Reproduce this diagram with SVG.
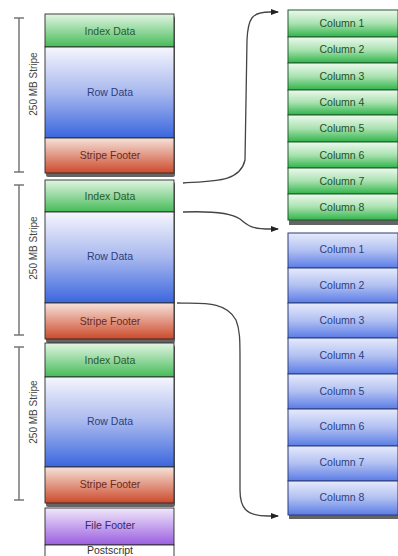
<svg xmlns="http://www.w3.org/2000/svg" width="398" height="556" viewBox="0 0 398 556">
<defs>
<linearGradient id="gIdx" x1="0" y1="0" x2="0" y2="1"><stop offset="0" stop-color="#e3f5e3"/><stop offset="1" stop-color="#45bb58"/></linearGradient>
<linearGradient id="gRow" x1="0" y1="0" x2="0" y2="1"><stop offset="0" stop-color="#f6f6fd"/><stop offset="0.5" stop-color="#a8b8ee"/><stop offset="1" stop-color="#3a66de"/></linearGradient>
<linearGradient id="gFoot" x1="0" y1="0" x2="0" y2="1"><stop offset="0" stop-color="#f6e2da"/><stop offset="1" stop-color="#cc4a2c"/></linearGradient>
<linearGradient id="gFile" x1="0" y1="0" x2="0" y2="1"><stop offset="0" stop-color="#f1e8fa"/><stop offset="1" stop-color="#9a5ee0"/></linearGradient>
<linearGradient id="gCg" x1="0" y1="0" x2="0" y2="1"><stop offset="0" stop-color="#eef9ee"/><stop offset="0.5" stop-color="#a9e2b0"/><stop offset="1" stop-color="#2fb449"/></linearGradient>
<linearGradient id="gCb" x1="0" y1="0" x2="0" y2="1"><stop offset="0" stop-color="#e6eafb"/><stop offset="0.5" stop-color="#b1c0f2"/><stop offset="1" stop-color="#5a7ce6"/></linearGradient>
<marker id="arr" markerWidth="8" markerHeight="6" refX="7" refY="3" orient="auto" markerUnits="userSpaceOnUse"><path d="M0,0 L8,3 L0,6 Z" fill="#222"/></marker>
</defs>
<style>
.t{font-family:"Liberation Sans",Arial,sans-serif;font-size:10.5px;text-anchor:middle;dominant-baseline:central}
.ti{fill:#2b5a2e}.tr{fill:#2c3f80}.tf{fill:#6b2a1c}.tp{fill:#3a2a66}.tg{fill:#24502a}.tb{fill:#2c3f80}
.lab{font-family:"Liberation Sans",Arial,sans-serif;font-size:10px;fill:#444;text-anchor:middle;dominant-baseline:central}
.br{stroke:#777;stroke-width:1.5;fill:none}
.sh{fill:#222;opacity:0.7}
.bd{stroke:#2a2a2a;stroke-width:0.9}
.bg{stroke:#1f5a2c;stroke-width:1}
.bb{stroke:#2b3d7a;stroke-width:1}
.con{stroke:#444;stroke-width:1.3;fill:none;marker-end:url(#arr)}
</style>

<g id="bracket1"><path class="br" d="M19,18 V172 M14,18 H24 M14,172 H24"/><text class="lab" transform="translate(33,84) rotate(-90)">250 MB Stripe</text></g>
<g id="bracket2"><path class="br" d="M19,185 V335 M14,185 H24 M14,335 H24"/><text class="lab" transform="translate(33,248) rotate(-90)">250 MB Stripe</text></g>
<g id="bracket3"><path class="br" d="M19,347 V500 M14,347 H24 M14,500 H24"/><text class="lab" transform="translate(33,412) rotate(-90)">250 MB Stripe</text></g>

<g id="stripe1">
<rect class="sh" x="46" y="16" width="129" height="161" rx="2"/>
<rect class="bd" x="45" y="14" width="129" height="33" fill="url(#gIdx)"/>
<rect class="bd" x="45" y="47" width="129" height="91" fill="url(#gRow)"/>
<rect class="bd" x="45" y="138" width="129" height="35" fill="url(#gFoot)"/>
<text class="t ti" x="110" y="31">Index Data</text>
<text class="t tr" x="110" y="92">Row Data</text>
<text class="t tf" x="110" y="155">Stripe Footer</text>
</g>
<g id="stripe2">
<rect class="sh" x="46" y="182" width="129" height="161" rx="2"/>
<rect class="bd" x="45" y="180" width="129" height="32" fill="url(#gIdx)"/>
<rect class="bd" x="45" y="212" width="129" height="91" fill="url(#gRow)"/>
<rect class="bd" x="45" y="303" width="129" height="36" fill="url(#gFoot)"/>
<text class="t ti" x="110" y="196">Index Data</text>
<text class="t tr" x="110" y="256">Row Data</text>
<text class="t tf" x="110" y="321">Stripe Footer</text>
</g>
<g id="stripe3">
<rect class="sh" x="46" y="345" width="129" height="162" rx="2"/>
<rect class="bd" x="45" y="343" width="129" height="34" fill="url(#gIdx)"/>
<rect class="bd" x="45" y="377" width="129" height="90" fill="url(#gRow)"/>
<rect class="bd" x="45" y="467" width="129" height="36" fill="url(#gFoot)"/>
<text class="t ti" x="110" y="360">Index Data</text>
<text class="t tr" x="110" y="421">Row Data</text>
<text class="t tf" x="110" y="484">Stripe Footer</text>
</g>
<g id="filefooter">
<rect class="bd" x="45" y="508" width="129" height="37" fill="url(#gFile)"/>
<text class="t tp" x="110" y="525">File Footer</text>
</g>
<g id="postscript">
<rect class="bd" x="45" y="545" width="129" height="14" fill="#fff"/>
<text class="t" x="110" y="550" fill="#333">Postscript</text>
</g>

<g id="green-columns">
<rect class="sh" x="289" y="13" width="110" height="212"/>
<rect class="bg" x="288" y="10" width="110" height="27" fill="url(#gCg)"/>
<rect class="bg" x="288" y="37" width="110" height="26" fill="url(#gCg)"/>
<rect class="bg" x="288" y="63" width="110" height="27" fill="url(#gCg)"/>
<rect class="bg" x="288" y="90" width="110" height="25" fill="url(#gCg)"/>
<rect class="bg" x="288" y="115" width="110" height="27" fill="url(#gCg)"/>
<rect class="bg" x="288" y="142" width="110" height="26" fill="url(#gCg)"/>
<rect class="bg" x="288" y="168" width="110" height="26" fill="url(#gCg)"/>
<rect class="bg" x="288" y="194" width="110" height="26" fill="url(#gCg)"/>
<text class="t tg" x="342" y="23">Column 1</text>
<text class="t tg" x="342" y="49">Column 2</text>
<text class="t tg" x="342" y="76">Column 3</text>
<text class="t tg" x="342" y="102">Column 4</text>
<text class="t tg" x="342" y="128">Column 5</text>
<text class="t tg" x="342" y="155">Column 6</text>
<text class="t tg" x="342" y="181">Column 7</text>
<text class="t tg" x="342" y="207">Column 8</text>
</g>
<g id="blue-columns">
<rect class="sh" x="289" y="236" width="110" height="283"/>
<rect class="bb" x="288" y="233" width="110" height="35" fill="url(#gCb)"/>
<rect class="bb" x="288" y="268" width="110" height="35" fill="url(#gCb)"/>
<rect class="bb" x="288" y="303" width="110" height="35" fill="url(#gCb)"/>
<rect class="bb" x="288" y="338" width="110" height="36" fill="url(#gCb)"/>
<rect class="bb" x="288" y="374" width="110" height="35" fill="url(#gCb)"/>
<rect class="bb" x="288" y="409" width="110" height="37" fill="url(#gCb)"/>
<rect class="bb" x="288" y="446" width="110" height="35" fill="url(#gCb)"/>
<rect class="bb" x="288" y="481" width="110" height="34" fill="url(#gCb)"/>
<text class="t tb" x="342" y="249">Column 1</text>
<text class="t tb" x="342" y="285">Column 2</text>
<text class="t tb" x="342" y="320">Column 3</text>
<text class="t tb" x="342" y="355">Column 4</text>
<text class="t tb" x="342" y="391">Column 5</text>
<text class="t tb" x="342" y="426">Column 6</text>
<text class="t tb" x="342" y="462">Column 7</text>
<text class="t tb" x="342" y="497">Column 8</text>
</g>

<g id="connectors">
<path class="con" d="M183,183 C215,181 240,182 245,160 L247,40 C248,18 252,12 270,12 L278,12"/>
<path class="con" d="M183,212 C210,211 230,212 240,219 C248,226 252,229 270,229 L278,229"/>
<path class="con" d="M177,303 C200,304 225,300 236,320 C240,330 240,340 240,360 L240,490 C240,508 246,516 268,516 L278,516"/>
</g>
</svg>
